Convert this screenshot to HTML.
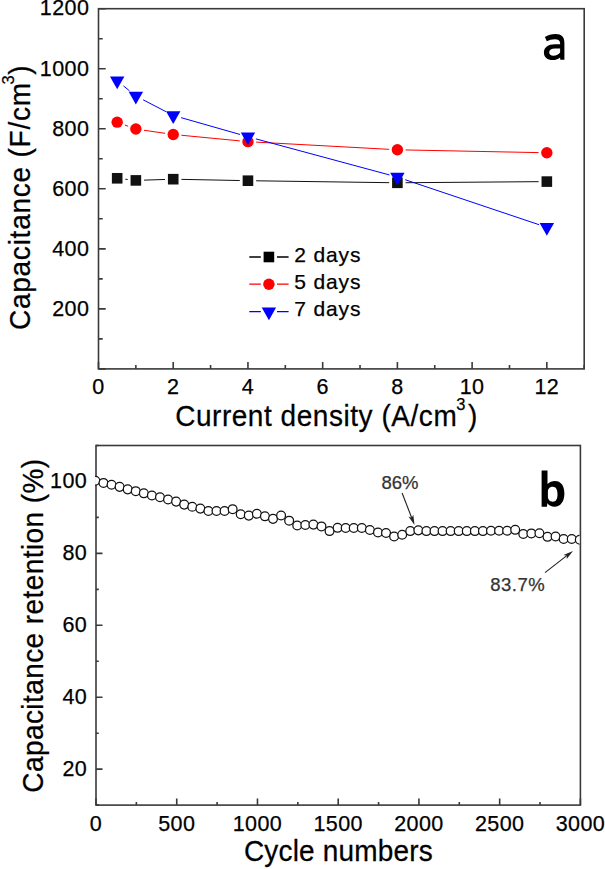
<!DOCTYPE html>
<html><head><meta charset="utf-8"><style>
html,body{margin:0;padding:0;background:#fff;}
svg{display:block;font-family:"Liberation Sans", sans-serif;}
text{stroke-width:0.25px;}
</style></head><body>
<svg width="605" height="869" viewBox="0 0 605 869">
<rect width="605" height="869" fill="#fff"/>
<path d="M125.33,179.21L127.71,179.48M144.06,180.13L165.03,179.46M181.42,179.36L239.75,180.53M256.15,180.81L389.19,182.68M405.59,182.73L538.64,181.66" stroke="#111" stroke-width="1.0" fill="none"/>
<path d="M124.87,125.01L128.17,126.22M143.98,130.24L165.11,133.30M181.39,135.26L239.78,140.89M256.13,142.12L389.20,149.33M405.59,149.94L538.64,152.62" stroke="#f00" stroke-width="1.0" fill="none"/>
<path d="M123.52,85.94L129.52,90.85M143.14,99.82L165.94,111.64M181.11,117.66L240.06,134.47M255.86,138.86L389.48,174.95M405.17,179.71L539.07,224.70" stroke="#00f" stroke-width="1.0" fill="none"/>
<rect x="111.88" y="172.99" width="10.6" height="10.6" fill="#111"/>
<rect x="130.56" y="175.10" width="10.6" height="10.6" fill="#111"/>
<rect x="167.92" y="173.89" width="10.6" height="10.6" fill="#111"/>
<rect x="242.65" y="175.40" width="10.6" height="10.6" fill="#111"/>
<rect x="392.09" y="177.50" width="10.6" height="10.6" fill="#111"/>
<rect x="541.54" y="176.30" width="10.6" height="10.6" fill="#111"/>
<circle cx="117.18" cy="122.16" r="5.7" fill="#f00"/>
<circle cx="135.86" cy="129.07" r="5.7" fill="#f00"/>
<circle cx="173.22" cy="134.47" r="5.7" fill="#f00"/>
<circle cx="247.95" cy="141.67" r="5.7" fill="#f00"/>
<circle cx="397.39" cy="149.78" r="5.7" fill="#f00"/>
<circle cx="546.84" cy="152.78" r="5.7" fill="#f00"/>
<path d="M109.98,76.51L124.38,76.51L117.18,89.21Z" fill="#00f"/>
<path d="M128.66,91.82L143.06,91.82L135.86,104.52Z" fill="#00f"/>
<path d="M166.02,111.18L180.42,111.18L173.22,123.88Z" fill="#00f"/>
<path d="M240.75,132.49L255.15,132.49L247.95,145.19Z" fill="#00f"/>
<path d="M390.19,172.86L404.59,172.86L397.39,185.56Z" fill="#00f"/>
<path d="M539.64,223.08L554.04,223.08L546.84,235.78Z" fill="#00f"/>
<rect x="98.5" y="8.7" width="485.70" height="360.20" fill="none" stroke="#3a3a3a" stroke-width="1.6"/>
<path d="M98.50,368.9V361.9M135.86,368.9V364.9M173.22,368.9V361.9M210.58,368.9V364.9M247.95,368.9V361.9M285.31,368.9V364.9M322.67,368.9V361.9M360.03,368.9V364.9M397.39,368.9V361.9M434.75,368.9V364.9M472.12,368.9V361.9M509.48,368.9V364.9M546.84,368.9V361.9M584.20,368.9V364.9M98.5,368.90H105.7M98.5,338.88H102.7M98.5,308.87H105.7M98.5,278.85H102.7M98.5,248.83H105.7M98.5,218.82H102.7M98.5,188.80H105.7M98.5,158.78H102.7M98.5,128.77H105.7M98.5,98.75H102.7M98.5,68.73H105.7M98.5,38.72H102.7M98.5,8.70H105.7" stroke="#3a3a3a" stroke-width="1.6" fill="none"/>
<text x="98.50" y="394.30" font-size="21.5" text-anchor="middle" fill="#000" stroke="#000" letter-spacing="0.4">0</text>
<text x="173.22" y="394.30" font-size="21.5" text-anchor="middle" fill="#000" stroke="#000" letter-spacing="0.4">2</text>
<text x="247.95" y="394.30" font-size="21.5" text-anchor="middle" fill="#000" stroke="#000" letter-spacing="0.4">4</text>
<text x="322.67" y="394.30" font-size="21.5" text-anchor="middle" fill="#000" stroke="#000" letter-spacing="0.4">6</text>
<text x="397.39" y="394.30" font-size="21.5" text-anchor="middle" fill="#000" stroke="#000" letter-spacing="0.4">8</text>
<text x="472.12" y="394.30" font-size="21.5" text-anchor="middle" fill="#000" stroke="#000" letter-spacing="0.4">10</text>
<text x="546.84" y="394.30" font-size="21.5" text-anchor="middle" fill="#000" stroke="#000" letter-spacing="0.4">12</text>
<text x="89.30" y="315.77" font-size="21.5" text-anchor="end" fill="#000" stroke="#000" letter-spacing="0.4">200</text>
<text x="89.30" y="255.73" font-size="21.5" text-anchor="end" fill="#000" stroke="#000" letter-spacing="0.4">400</text>
<text x="89.30" y="195.70" font-size="21.5" text-anchor="end" fill="#000" stroke="#000" letter-spacing="0.4">600</text>
<text x="89.30" y="135.67" font-size="21.5" text-anchor="end" fill="#000" stroke="#000" letter-spacing="0.4">800</text>
<text x="89.30" y="75.63" font-size="21.5" text-anchor="end" fill="#000" stroke="#000" letter-spacing="0.4">1000</text>
<text x="89.30" y="14.80" font-size="21.5" text-anchor="end" fill="#000" stroke="#000" letter-spacing="0.4">1200</text>
<text transform="translate(29.5,330.1) rotate(-90) scale(1,1.05)" font-size="28" letter-spacing="0.77" fill="#000" stroke="#000">Capacitance (F/cm</text>
<text transform="translate(13.8,84.6) rotate(-90)" font-size="16.5" fill="#000" stroke="#000">3</text>
<text transform="translate(29.5,74.7) rotate(-90) scale(1,1.03)" font-size="28" fill="#000" stroke="#000">)</text>
<text transform="translate(175.15,425.5) scale(1,1.05)" font-size="28" letter-spacing="0.55" fill="#000" stroke="#000">Current density (A/cm</text>
<text x="456.3" y="410.2" font-size="16.5" fill="#000" stroke="#000">3</text>
<text transform="translate(468.1,425.5) scale(1,1.03)" font-size="28" fill="#000" stroke="#000">)</text>
<path d="M249.3,257H260.8M277,257H288.6" stroke="#000" stroke-width="1.3"/>
<rect x="263.60" y="251.70" width="10.6" height="10.6" fill="#000"/>
<text x="294.30" y="262.00" font-size="21" text-anchor="start" fill="#000" stroke="#000" letter-spacing="0.85">2 days</text>
<path d="M249.3,284.2H260.8M277,284.2H288.6" stroke="#f00" stroke-width="1.3"/>
<circle cx="268.90" cy="284.20" r="5.7" fill="#f00"/>
<text x="294.30" y="289.00" font-size="21" text-anchor="start" fill="#000" stroke="#000" letter-spacing="0.85">5 days</text>
<path d="M249.3,311.7H260.8M277,311.7H288.6" stroke="#00f" stroke-width="1.3"/>
<path d="M261.70,307.47L276.10,307.47L268.90,320.17Z" fill="#00f"/>
<text x="294.30" y="316.30" font-size="21" text-anchor="start" fill="#000" stroke="#000" letter-spacing="0.85">7 days</text>
<path fill-rule="evenodd" fill="#000" d="M564.4,59.7 H560.3 L560.1,57.5 C558.5,59 556,60.1 552.6,60.1 C547.4,60.1 543.9,57.2 543.9,52.5 C543.9,47.4 548,44.2 555,44.2 H560.1 V43.3 C560.1,40.6 558.3,39.2 554.8,39.2 C551.8,39.2 549.3,40 546.8,41.3 L544.9,37.0 C547.8,34.9 551.6,33.9 555.5,33.9 C561.6,33.9 564.4,36.8 564.4,43 Z M560.1,48.5 H555.2 C551.2,48.5 549.2,49.8 549.2,52.3 C549.2,54.5 550.8,55.7 553.3,55.7 C556.5,55.7 558.8,54.2 560.1,52.4 Z"/>
<rect x="96.0" y="445.5" width="484.40" height="359.60" fill="none" stroke="#3a3a3a" stroke-width="1.6"/>
<path d="M96.00,805.1V798.6M136.37,805.1V802.1M176.73,805.1V798.6M217.10,805.1V802.1M257.47,805.1V798.6M297.83,805.1V802.1M338.20,805.1V798.6M378.57,805.1V802.1M418.93,805.1V798.6M459.30,805.1V802.1M499.67,805.1V798.6M540.03,805.1V802.1M580.40,805.1V798.6M96.0,805.10H98.8M96.0,769.14H102.5M96.0,733.18H98.8M96.0,697.22H102.5M96.0,661.26H98.8M96.0,625.30H102.5M96.0,589.34H98.8M96.0,553.38H102.5M96.0,517.42H98.8M96.0,481.46H102.5M96.0,445.50H98.8" stroke="#3a3a3a" stroke-width="1.6" fill="none"/>
<clipPath id="cb"><rect x="95.1" y="444.5" width="484.40" height="361.60"/></clipPath><g clip-path="url(#cb)">
<circle cx="95.40" cy="480.74" r="4.4" fill="#fff" stroke="#111" stroke-width="1.25"/>
<circle cx="103.47" cy="482.90" r="4.4" fill="#fff" stroke="#111" stroke-width="1.25"/>
<circle cx="111.55" cy="484.70" r="4.4" fill="#fff" stroke="#111" stroke-width="1.25"/>
<circle cx="119.62" cy="486.85" r="4.4" fill="#fff" stroke="#111" stroke-width="1.25"/>
<circle cx="127.69" cy="489.37" r="4.4" fill="#fff" stroke="#111" stroke-width="1.25"/>
<circle cx="135.77" cy="491.17" r="4.4" fill="#fff" stroke="#111" stroke-width="1.25"/>
<circle cx="143.84" cy="493.33" r="4.4" fill="#fff" stroke="#111" stroke-width="1.25"/>
<circle cx="151.91" cy="495.48" r="4.4" fill="#fff" stroke="#111" stroke-width="1.25"/>
<circle cx="159.99" cy="497.28" r="4.4" fill="#fff" stroke="#111" stroke-width="1.25"/>
<circle cx="168.06" cy="499.44" r="4.4" fill="#fff" stroke="#111" stroke-width="1.25"/>
<circle cx="176.13" cy="501.60" r="4.4" fill="#fff" stroke="#111" stroke-width="1.25"/>
<circle cx="184.21" cy="504.62" r="4.4" fill="#fff" stroke="#111" stroke-width="1.25"/>
<circle cx="192.28" cy="506.81" r="4.4" fill="#fff" stroke="#111" stroke-width="1.25"/>
<circle cx="200.35" cy="508.61" r="4.4" fill="#fff" stroke="#111" stroke-width="1.25"/>
<circle cx="208.43" cy="511.02" r="4.4" fill="#fff" stroke="#111" stroke-width="1.25"/>
<circle cx="216.50" cy="511.02" r="4.4" fill="#fff" stroke="#111" stroke-width="1.25"/>
<circle cx="224.57" cy="511.02" r="4.4" fill="#fff" stroke="#111" stroke-width="1.25"/>
<circle cx="232.65" cy="509.15" r="4.4" fill="#fff" stroke="#111" stroke-width="1.25"/>
<circle cx="240.72" cy="514.18" r="4.4" fill="#fff" stroke="#111" stroke-width="1.25"/>
<circle cx="248.79" cy="515.62" r="4.4" fill="#fff" stroke="#111" stroke-width="1.25"/>
<circle cx="256.87" cy="513.82" r="4.4" fill="#fff" stroke="#111" stroke-width="1.25"/>
<circle cx="264.94" cy="516.34" r="4.4" fill="#fff" stroke="#111" stroke-width="1.25"/>
<circle cx="273.01" cy="518.86" r="4.4" fill="#fff" stroke="#111" stroke-width="1.25"/>
<circle cx="281.09" cy="515.44" r="4.4" fill="#fff" stroke="#111" stroke-width="1.25"/>
<circle cx="289.16" cy="520.66" r="4.4" fill="#fff" stroke="#111" stroke-width="1.25"/>
<circle cx="297.23" cy="525.51" r="4.4" fill="#fff" stroke="#111" stroke-width="1.25"/>
<circle cx="305.31" cy="524.97" r="4.4" fill="#fff" stroke="#111" stroke-width="1.25"/>
<circle cx="313.38" cy="524.61" r="4.4" fill="#fff" stroke="#111" stroke-width="1.25"/>
<circle cx="321.45" cy="526.41" r="4.4" fill="#fff" stroke="#111" stroke-width="1.25"/>
<circle cx="329.53" cy="531.08" r="4.4" fill="#fff" stroke="#111" stroke-width="1.25"/>
<circle cx="337.60" cy="527.85" r="4.4" fill="#fff" stroke="#111" stroke-width="1.25"/>
<circle cx="345.67" cy="528.03" r="4.4" fill="#fff" stroke="#111" stroke-width="1.25"/>
<circle cx="353.75" cy="528.03" r="4.4" fill="#fff" stroke="#111" stroke-width="1.25"/>
<circle cx="361.82" cy="528.03" r="4.4" fill="#fff" stroke="#111" stroke-width="1.25"/>
<circle cx="369.89" cy="530.01" r="4.4" fill="#fff" stroke="#111" stroke-width="1.25"/>
<circle cx="377.97" cy="532.52" r="4.4" fill="#fff" stroke="#111" stroke-width="1.25"/>
<circle cx="386.04" cy="533.03" r="4.4" fill="#fff" stroke="#111" stroke-width="1.25"/>
<circle cx="394.11" cy="536.48" r="4.4" fill="#fff" stroke="#111" stroke-width="1.25"/>
<circle cx="402.19" cy="534.68" r="4.4" fill="#fff" stroke="#111" stroke-width="1.25"/>
<circle cx="410.26" cy="531.08" r="4.4" fill="#fff" stroke="#111" stroke-width="1.25"/>
<circle cx="418.33" cy="530.37" r="4.4" fill="#fff" stroke="#111" stroke-width="1.25"/>
<circle cx="426.41" cy="531.08" r="4.4" fill="#fff" stroke="#111" stroke-width="1.25"/>
<circle cx="434.48" cy="531.08" r="4.4" fill="#fff" stroke="#111" stroke-width="1.25"/>
<circle cx="442.55" cy="531.08" r="4.4" fill="#fff" stroke="#111" stroke-width="1.25"/>
<circle cx="450.63" cy="531.08" r="4.4" fill="#fff" stroke="#111" stroke-width="1.25"/>
<circle cx="458.70" cy="531.08" r="4.4" fill="#fff" stroke="#111" stroke-width="1.25"/>
<circle cx="466.77" cy="531.08" r="4.4" fill="#fff" stroke="#111" stroke-width="1.25"/>
<circle cx="474.85" cy="531.08" r="4.4" fill="#fff" stroke="#111" stroke-width="1.25"/>
<circle cx="482.92" cy="531.08" r="4.4" fill="#fff" stroke="#111" stroke-width="1.25"/>
<circle cx="490.99" cy="530.73" r="4.4" fill="#fff" stroke="#111" stroke-width="1.25"/>
<circle cx="499.07" cy="530.73" r="4.4" fill="#fff" stroke="#111" stroke-width="1.25"/>
<circle cx="507.14" cy="530.73" r="4.4" fill="#fff" stroke="#111" stroke-width="1.25"/>
<circle cx="515.21" cy="529.83" r="4.4" fill="#fff" stroke="#111" stroke-width="1.25"/>
<circle cx="523.29" cy="533.96" r="4.4" fill="#fff" stroke="#111" stroke-width="1.25"/>
<circle cx="531.36" cy="533.42" r="4.4" fill="#fff" stroke="#111" stroke-width="1.25"/>
<circle cx="539.43" cy="533.24" r="4.4" fill="#fff" stroke="#111" stroke-width="1.25"/>
<circle cx="547.51" cy="536.84" r="4.4" fill="#fff" stroke="#111" stroke-width="1.25"/>
<circle cx="555.58" cy="536.48" r="4.4" fill="#fff" stroke="#111" stroke-width="1.25"/>
<circle cx="563.65" cy="539.00" r="4.4" fill="#fff" stroke="#111" stroke-width="1.25"/>
<circle cx="571.73" cy="539.00" r="4.4" fill="#fff" stroke="#111" stroke-width="1.25"/>
<circle cx="579.80" cy="539.72" r="4.4" fill="#fff" stroke="#111" stroke-width="1.25"/>
</g>
<text x="96.00" y="831.30" font-size="21.5" text-anchor="middle" fill="#000" stroke="#000" letter-spacing="0.4">0</text>
<text x="176.73" y="831.30" font-size="21.5" text-anchor="middle" fill="#000" stroke="#000" letter-spacing="0.4">500</text>
<text x="257.47" y="831.30" font-size="21.5" text-anchor="middle" fill="#000" stroke="#000" letter-spacing="0.4">1000</text>
<text x="338.20" y="831.30" font-size="21.5" text-anchor="middle" fill="#000" stroke="#000" letter-spacing="0.4">1500</text>
<text x="418.93" y="831.30" font-size="21.5" text-anchor="middle" fill="#000" stroke="#000" letter-spacing="0.4">2000</text>
<text x="499.67" y="831.30" font-size="21.5" text-anchor="middle" fill="#000" stroke="#000" letter-spacing="0.4">2500</text>
<text x="580.40" y="831.30" font-size="21.5" text-anchor="middle" fill="#000" stroke="#000" letter-spacing="0.4">3000</text>
<text x="87.20" y="776.04" font-size="21.5" text-anchor="end" fill="#000" stroke="#000" letter-spacing="0.4">20</text>
<text x="87.20" y="704.12" font-size="21.5" text-anchor="end" fill="#000" stroke="#000" letter-spacing="0.4">40</text>
<text x="87.20" y="632.20" font-size="21.5" text-anchor="end" fill="#000" stroke="#000" letter-spacing="0.4">60</text>
<text x="87.20" y="560.28" font-size="21.5" text-anchor="end" fill="#000" stroke="#000" letter-spacing="0.4">80</text>
<text x="87.20" y="488.36" font-size="21.5" text-anchor="end" fill="#000" stroke="#000" letter-spacing="0.4">100</text>
<text transform="translate(42.7,792.7) rotate(-90) scale(1,1.05)" font-size="28" letter-spacing="0.43" fill="#000" stroke="#000">Capacitance retention (%)</text>
<text transform="translate(243.9,860.8) scale(1,1.05)" font-size="28" letter-spacing="0.18" fill="#000" stroke="#000">Cycle numbers</text>
<path fill-rule="evenodd" fill="#000" d="M541.6,470.6 H547.5 V484 C549.5,481.8 552,480.9 555,480.9 C560.8,480.9 564.4,485.5 564.4,493.5 C564.4,501.5 560.5,506.7 554.5,506.7 C551.5,506.7 549,505.5 547.3,503.3 L547,506.7 H541.6 Z M552.7,486.8 C549.5,486.8 547.9,489 547.9,492 V496.5 C547.9,499.8 550,501.7 552.7,501.7 C556,501.7 557.5,499 557.5,494.2 C557.5,489.5 556,486.8 552.7,486.8 Z"/>
<text x="381.50" y="488.90" font-size="18.5" text-anchor="start" fill="#333" stroke="#333" >86%</text>
<text x="490.30" y="591.20" font-size="18.5" text-anchor="start" fill="#333" stroke="#333" letter-spacing="0.5">83.7%</text>
<path d="M402.10,493.00L411.68,517.73" stroke="#222" stroke-width="1.1"/>
<path d="M414.50,525.00L408.46,516.62L411.68,517.73L413.31,514.74Z" fill="#222"/>
<path d="M545.00,572.60L566.83,555.68" stroke="#222" stroke-width="1.1"/>
<path d="M573.00,550.90L566.69,559.08L566.83,555.68L563.50,554.97Z" fill="#222"/>
</svg></body></html>
